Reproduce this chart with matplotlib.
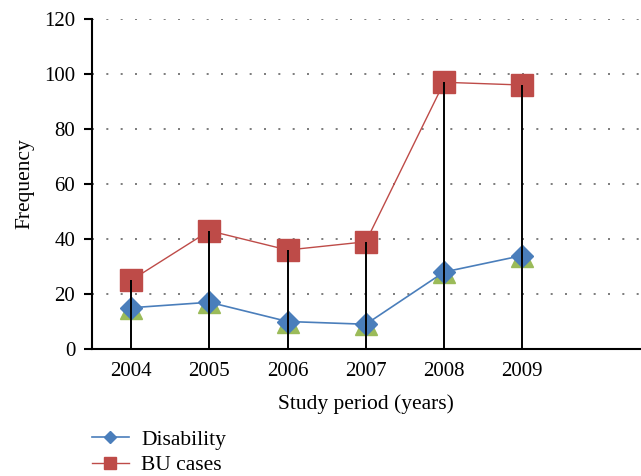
import matplotlib
matplotlib.use("Agg")
import matplotlib.pyplot as plt

years = ["2004", "2005", "2006", "2007", "2008", "2009"]
disability = [15, 17, 10, 9, 28, 34]
bu_cases = [25, 43, 36, 39, 97, 96]
hidden_series = [15, 17, 10, 9, 28, 34]
y_ticks = [0, 20, 40, 60, 80, 100, 120]

plt.rcParams['font.family'] = ['Liberation Serif', 'DejaVu Serif']

fig = plt.figure(figsize=(6.41, 4.76), dpi=100)
ax = fig.add_axes([0.1435, 0.2668, 0.8545, 0.6932])

x = list(range(len(years)))

ax.plot(x, hidden_series, linestyle='none', marker='^', markersize=16,
        color='#9BBB59', zorder=3)
ax.plot(x, disability, color='#4A7EBB', linewidth=1.2, marker='D', markersize=11,
        markerfacecolor='#4A7EBB', markeredgecolor='#4A7EBB', label='Disability', zorder=4)
ax.plot(x, bu_cases, color='#BE4B48', linewidth=1.0, marker='s', markersize=16,
        markerfacecolor='#BE4B48', markeredgecolor='#BE4B48', label='BU cases', zorder=4)

# drop lines
ax.vlines(x, 0, [max(a, b) for a, b in zip(bu_cases, disability)],
          color='black', linewidth=1.4, zorder=5)

ax.set_xlim(-0.5, 6.5)
ax.set_ylim(0, 120)
ax.set_yticks(y_ticks)
ax.set_xticks(x)
ax.set_xticklabels(years)
ax.tick_params(axis='x', length=0, labelsize=15, pad=9)
ax.tick_params(axis='y', length=6, width=1.5, direction='out', labelsize=15, pad=6)

for v in y_ticks[1:]:
    ax.axhline(v, color='#666666', linestyle=(0, (1.2, 7.4)), linewidth=1.2, zorder=1)

for s in ['top', 'right']:
    ax.spines[s].set_visible(False)
ax.spines['left'].set_linewidth(1.5)
ax.spines['bottom'].set_linewidth(1.5)

ax.set_ylabel('Frequency', fontsize=15.5, labelpad=7)
ax.set_xlabel('Study period (years)', fontsize=15.5, labelpad=10)

ax.legend(loc='upper left', bbox_to_anchor=(0.0, -0.245), frameon=False,
          fontsize=15.5, handlelength=1.7, markerscale=0.55, labelspacing=0.25,
          handletextpad=0.6, borderaxespad=0, borderpad=0)

fig.savefig('out.png', dpi=100)
